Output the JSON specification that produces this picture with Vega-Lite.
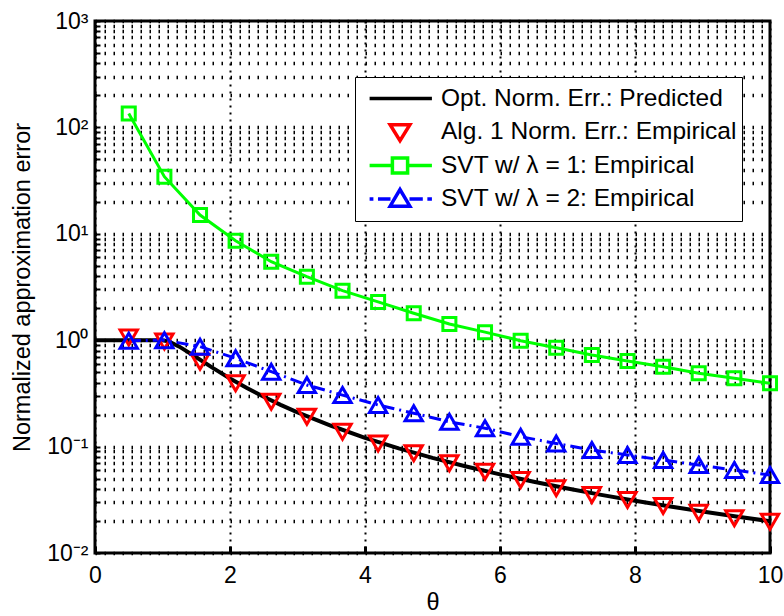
{
  "$schema": "https://vega.github.io/schema/vega-lite/v6.json",
  "width": 675,
  "height": 532,
  "autosize": {"type": "none"},
  "padding": {"left": 95, "top": 21, "right": 14, "bottom": 63},
  "background": "white",
  "config": {
    "font": "Liberation Sans",
    "view": {"stroke": "black", "strokeWidth": 3},
    "axis": {
      "domain": false,
      "gridColor": "black",
      "gridOpacity": 1,
      "tickColor": "black",
      "labelColor": "black",
      "titleColor": "black",
      "labelFont": "Liberation Sans",
      "titleFont": "Liberation Sans",
      "titleFontWeight": "normal",
      "labelFontSize": 23,
      "titleFontSize": 23.5,
      "labelOverlap": false
    }
  },
  "datasets": {
    "pred": [
      {"theta": 0, "err": 1, "series": "Opt. Norm. Err.: Predicted"},
      {"theta": 0.5, "err": 1, "series": "Opt. Norm. Err.: Predicted"},
      {"theta": 1, "err": 1, "series": "Opt. Norm. Err.: Predicted"},
      {"theta": 1.1, "err": 0.97, "series": "Opt. Norm. Err.: Predicted"},
      {"theta": 1.25, "err": 0.87, "series": "Opt. Norm. Err.: Predicted"},
      {"theta": 1.5, "err": 0.691, "series": "Opt. Norm. Err.: Predicted"},
      {"theta": 1.75, "err": 0.546, "series": "Opt. Norm. Err.: Predicted"},
      {"theta": 2, "err": 0.4375, "series": "Opt. Norm. Err.: Predicted"},
      {"theta": 2.25, "err": 0.356, "series": "Opt. Norm. Err.: Predicted"},
      {"theta": 2.5, "err": 0.294, "series": "Opt. Norm. Err.: Predicted"},
      {"theta": 2.75, "err": 0.247, "series": "Opt. Norm. Err.: Predicted"},
      {"theta": 3, "err": 0.21, "series": "Opt. Norm. Err.: Predicted"},
      {"theta": 3.5, "err": 0.157, "series": "Opt. Norm. Err.: Predicted"},
      {"theta": 4, "err": 0.121, "series": "Opt. Norm. Err.: Predicted"},
      {"theta": 4.5, "err": 0.0963, "series": "Opt. Norm. Err.: Predicted"},
      {"theta": 5, "err": 0.0784, "series": "Opt. Norm. Err.: Predicted"},
      {"theta": 5.5, "err": 0.065, "series": "Opt. Norm. Err.: Predicted"},
      {"theta": 6, "err": 0.0548, "series": "Opt. Norm. Err.: Predicted"},
      {"theta": 6.5, "err": 0.0468, "series": "Opt. Norm. Err.: Predicted"},
      {"theta": 7, "err": 0.0404, "series": "Opt. Norm. Err.: Predicted"},
      {"theta": 7.5, "err": 0.0352, "series": "Opt. Norm. Err.: Predicted"},
      {"theta": 8, "err": 0.031, "series": "Opt. Norm. Err.: Predicted"},
      {"theta": 8.5, "err": 0.0275, "series": "Opt. Norm. Err.: Predicted"},
      {"theta": 9, "err": 0.0245, "series": "Opt. Norm. Err.: Predicted"},
      {"theta": 9.5, "err": 0.022, "series": "Opt. Norm. Err.: Predicted"},
      {"theta": 10, "err": 0.0199, "series": "Opt. Norm. Err.: Predicted"}
    ],
    "emp": [
      {"theta": 0.5, "err": 1.06, "series": "Alg. 1 Norm. Err.: Empirical"},
      {"theta": 1.028, "err": 0.97, "series": "Alg. 1 Norm. Err.: Empirical"},
      {"theta": 1.556, "err": 0.628, "series": "Alg. 1 Norm. Err.: Empirical"},
      {"theta": 2.083, "err": 0.394, "series": "Alg. 1 Norm. Err.: Empirical"},
      {"theta": 2.611, "err": 0.264, "series": "Alg. 1 Norm. Err.: Empirical"},
      {"theta": 3.139, "err": 0.191, "series": "Alg. 1 Norm. Err.: Empirical"},
      {"theta": 3.667, "err": 0.138, "series": "Alg. 1 Norm. Err.: Empirical"},
      {"theta": 4.194, "err": 0.107, "series": "Alg. 1 Norm. Err.: Empirical"},
      {"theta": 4.722, "err": 0.0865, "series": "Alg. 1 Norm. Err.: Empirical"},
      {"theta": 5.25, "err": 0.0697, "series": "Alg. 1 Norm. Err.: Empirical"},
      {"theta": 5.778, "err": 0.058, "series": "Alg. 1 Norm. Err.: Empirical"},
      {"theta": 6.306, "err": 0.0485, "series": "Alg. 1 Norm. Err.: Empirical"},
      {"theta": 6.833, "err": 0.0405, "series": "Alg. 1 Norm. Err.: Empirical"},
      {"theta": 7.361, "err": 0.0351, "series": "Alg. 1 Norm. Err.: Empirical"},
      {"theta": 7.889, "err": 0.0315, "series": "Alg. 1 Norm. Err.: Empirical"},
      {"theta": 8.417, "err": 0.0277, "series": "Alg. 1 Norm. Err.: Empirical"},
      {"theta": 8.944, "err": 0.0239, "series": "Alg. 1 Norm. Err.: Empirical"},
      {"theta": 9.472, "err": 0.0212, "series": "Alg. 1 Norm. Err.: Empirical"},
      {"theta": 10, "err": 0.0197, "series": "Alg. 1 Norm. Err.: Empirical"},
      {"theta": 0.5, "err": 135, "series": "SVT w/ λ = 1: Empirical"},
      {"theta": 1.028, "err": 34.4, "series": "SVT w/ λ = 1: Empirical"},
      {"theta": 1.556, "err": 15.0, "series": "SVT w/ λ = 1: Empirical"},
      {"theta": 2.083, "err": 8.6, "series": "SVT w/ λ = 1: Empirical"},
      {"theta": 2.611, "err": 5.47, "series": "SVT w/ λ = 1: Empirical"},
      {"theta": 3.139, "err": 3.95, "series": "SVT w/ λ = 1: Empirical"},
      {"theta": 3.667, "err": 2.92, "series": "SVT w/ λ = 1: Empirical"},
      {"theta": 4.194, "err": 2.29, "series": "SVT w/ λ = 1: Empirical"},
      {"theta": 4.722, "err": 1.79, "series": "SVT w/ λ = 1: Empirical"},
      {"theta": 5.25, "err": 1.42, "series": "SVT w/ λ = 1: Empirical"},
      {"theta": 5.778, "err": 1.19, "series": "SVT w/ λ = 1: Empirical"},
      {"theta": 6.306, "err": 0.99, "series": "SVT w/ λ = 1: Empirical"},
      {"theta": 6.833, "err": 0.85, "series": "SVT w/ λ = 1: Empirical"},
      {"theta": 7.361, "err": 0.726, "series": "SVT w/ λ = 1: Empirical"},
      {"theta": 7.889, "err": 0.638, "series": "SVT w/ λ = 1: Empirical"},
      {"theta": 8.417, "err": 0.564, "series": "SVT w/ λ = 1: Empirical"},
      {"theta": 8.944, "err": 0.489, "series": "SVT w/ λ = 1: Empirical"},
      {"theta": 9.472, "err": 0.438, "series": "SVT w/ λ = 1: Empirical"},
      {"theta": 10, "err": 0.394, "series": "SVT w/ λ = 1: Empirical"},
      {"theta": 0.5, "err": 0.99, "series": "SVT w/ λ = 2: Empirical"},
      {"theta": 1.028, "err": 1.0, "series": "SVT w/ λ = 2: Empirical"},
      {"theta": 1.556, "err": 0.87, "series": "SVT w/ λ = 2: Empirical"},
      {"theta": 2.083, "err": 0.676, "series": "SVT w/ λ = 2: Empirical"},
      {"theta": 2.611, "err": 0.506, "series": "SVT w/ λ = 2: Empirical"},
      {"theta": 3.139, "err": 0.379, "series": "SVT w/ λ = 2: Empirical"},
      {"theta": 3.667, "err": 0.305, "series": "SVT w/ λ = 2: Empirical"},
      {"theta": 4.194, "err": 0.246, "series": "SVT w/ λ = 2: Empirical"},
      {"theta": 4.722, "err": 0.206, "series": "SVT w/ λ = 2: Empirical"},
      {"theta": 5.25, "err": 0.171, "series": "SVT w/ λ = 2: Empirical"},
      {"theta": 5.778, "err": 0.149, "series": "SVT w/ λ = 2: Empirical"},
      {"theta": 6.306, "err": 0.124, "series": "SVT w/ λ = 2: Empirical"},
      {"theta": 6.833, "err": 0.107, "series": "SVT w/ λ = 2: Empirical"},
      {"theta": 7.361, "err": 0.093, "series": "SVT w/ λ = 2: Empirical"},
      {"theta": 7.889, "err": 0.0834, "series": "SVT w/ λ = 2: Empirical"},
      {"theta": 8.417, "err": 0.0748, "series": "SVT w/ λ = 2: Empirical"},
      {"theta": 8.944, "err": 0.0671, "series": "SVT w/ λ = 2: Empirical"},
      {"theta": 9.472, "err": 0.0602, "series": "SVT w/ λ = 2: Empirical"},
      {"theta": 10, "err": 0.054, "series": "SVT w/ λ = 2: Empirical"}
    ]
  },
  "encoding": {
    "x": {
      "field": "theta",
      "type": "quantitative",
      "title": "θ",
      "scale": {"domain": [0, 10], "nice": false, "zero": false},
      "axis": {
        "values": [0, 2, 4, 6, 8, 10],
        "grid": true,
        "gridDash": [2, 5],
        "gridWidth": 2,
        "tickSize": -7,
        "tickWidth": 3,
        "labelPadding": 18,
        "labelFlush": false,
        "titlePadding": 3
      }
    },
    "y": {
      "field": "err",
      "type": "quantitative",
      "title": "Normalized approximation error",
      "scale": {"type": "log", "domain": [0.01, 1000], "nice": false},
      "axis": {
        "values": [0.01, 0.02, 0.03, 0.04, 0.05, 0.06, 0.07, 0.08, 0.09, 0.1, 0.2, 0.3, 0.4, 0.5, 0.6, 0.7, 0.8, 0.9, 1, 2, 3, 4, 5, 6, 7, 8, 9, 10, 20, 30, 40, 50, 60, 70, 80, 90, 100, 200, 300, 400, 500, 600, 700, 800, 900, 1000],
        "labelExpr": "datum.value==0.01?'10⁻²':datum.value==0.1?'10⁻¹':datum.value==1?'10⁰':datum.value==10?'10¹':datum.value==100?'10²':datum.value==1000?'10³':''",
        "grid": true,
        "gridDash": [1.5, 7.5],
        "gridWidth": 3.5,
        "tickSize": -5,
        "tickWidth": 2,
        "labelPadding": 12,
        "titlePadding": 12
      }
    }
  },
  "layer": [
    {
      "data": {"name": "pred"},
      "mark": {"type": "line", "color": "black", "strokeWidth": 4}
    },
    {
      "data": {"name": "emp"},
      "transform": [{"filter": "datum.series == 'SVT w/ λ = 1: Empirical'"}],
      "mark": {"type": "line", "color": "#00FF00", "strokeWidth": 3}
    },
    {
      "data": {"name": "emp"},
      "transform": [{"filter": "datum.series == 'SVT w/ λ = 2: Empirical'"}],
      "mark": {"type": "line", "color": "#0000FF", "strokeWidth": 3, "strokeDash": [12, 5, 2, 5]}
    },
    {
      "data": {"name": "emp"},
      "transform": [{"filter": "datum.series == 'Alg. 1 Norm. Err.: Empirical'"}],
      "mark": {"type": "point", "shape": "triangle-down", "color": "#FF0000", "filled": false, "size": 300, "strokeWidth": 3, "opacity": 1}
    },
    {
      "data": {"name": "emp"},
      "transform": [{"filter": "datum.series == 'SVT w/ λ = 1: Empirical'"}],
      "mark": {"type": "point", "shape": "square", "color": "#00FF00", "filled": false, "size": 170, "strokeWidth": 3, "opacity": 1}
    },
    {
      "data": {"name": "emp"},
      "transform": [{"filter": "datum.series == 'SVT w/ λ = 2: Empirical'"}],
      "mark": {"type": "point", "shape": "triangle-up", "color": "#0000FF", "filled": false, "size": 300, "strokeWidth": 3, "opacity": 1}
    },
    {
      "data": {"name": "emp"},
      "mark": {"type": "point", "filled": false, "opacity": 0, "strokeWidth": 3},
      "encoding": {
        "color": {
          "field": "series",
          "type": "nominal",
          "scale": {
            "domain": ["Opt. Norm. Err.: Predicted", "Alg. 1 Norm. Err.: Empirical", "SVT w/ λ = 1: Empirical", "SVT w/ λ = 2: Empirical"],
            "range": ["#000000", "#FF0000", "#00FF00", "#0000FF"]
          },
          "legend": {
            "title": null,
            "orient": "none",
            "legendX": 260,
            "legendY": 56,
            "padding": 5,
            "fillColor": "white",
            "strokeColor": "black",
            "symbolSize": 5776,
            "symbolStrokeWidth": 3.5,
            "symbolOpacity": 1,
            "clipHeight": 33,
            "rowPadding": 0.5,
            "labelFont": "Liberation Sans",
            "labelFontSize": 24.5,
            "labelColor": "black",
            "labelOffset": 1,
            "labelLimit": 500,
            "encode": {"legend": {"update": {"strokeWidth": {"value": 3}}}}
          }
        },
        "shape": {
          "field": "series",
          "type": "nominal",
          "scale": {
            "domain": ["Opt. Norm. Err.: Predicted", "Alg. 1 Norm. Err.: Empirical", "SVT w/ λ = 1: Empirical", "SVT w/ λ = 2: Empirical"],
            "range": [
              "M-0.8,0H0.84",
              "M-0.26,-0.19H0.26L0,0.23Z",
              "M-0.8,0H-0.2M0.2,0H0.84M-0.2,-0.2H0.2V0.2H-0.2Z",
              "M-0.8,0H-0.7M-0.58,0H-0.25M0.25,0H0.6M0.72,0H0.84M-0.26,0.19H0.26L0,-0.25Z"
            ]
          },
          "legend": {
            "title": null,
            "orient": "none",
            "legendX": 260,
            "legendY": 56
          }
        }
      }
    }
  ]
}
